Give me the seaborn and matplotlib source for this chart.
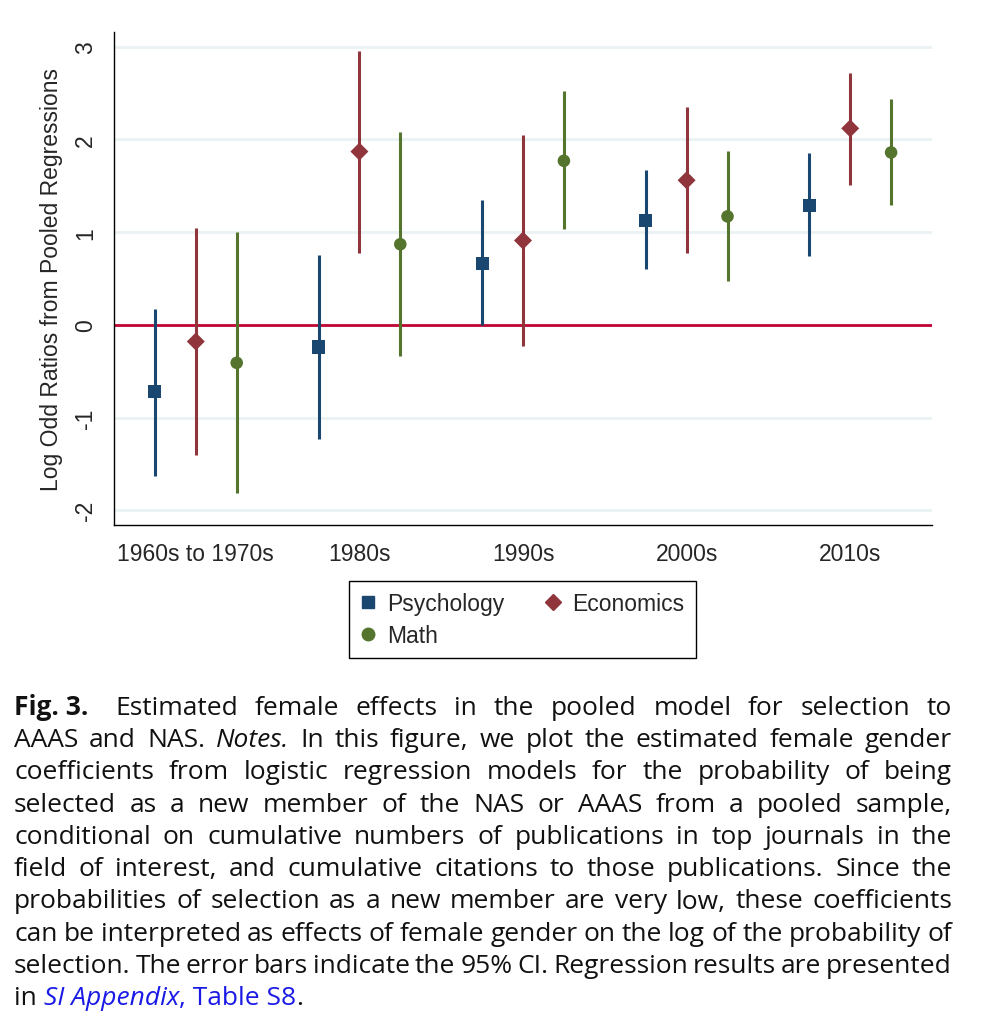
import pandas as pd
import seaborn as sns
import matplotlib.pyplot as plt
from matplotlib.lines import Line2D

decades = ["1960s to 1970s", "1980s", "1990s", "2000s", "2010s"]
fields = ["Psychology", "Economics", "Math"]

# point estimates and 95% CI bounds
psych_est = [-0.72, -0.24, 0.66, 1.13, 1.29]
psych_lo = [-1.63, -1.23, 0.00, 0.60, 0.74]
psych_hi = [0.17, 0.75, 1.35, 1.67, 1.85]

econ_est = [-0.18, 1.87, 0.91, 1.56, 2.12]
econ_lo = [-1.40, 0.78, -0.23, 0.77, 1.51]
econ_hi = [1.04, 2.96, 2.05, 2.35, 2.72]

math_est = [-0.41, 0.87, 1.77, 1.17, 1.86]
math_lo = [-1.82, -0.34, 1.03, 0.47, 1.29]
math_hi = [1.00, 2.08, 2.52, 1.88, 2.44]

colors = {"Psychology": "#1a476f", "Economics": "#90353b", "Math": "#55752f"}
markers = {"Psychology": "s", "Economics": "D", "Math": "o"}
sizes = {"Psychology": 90, "Economics": 84, "Math": 82}
offsets = {"Psychology": -0.25, "Economics": 0.0, "Math": 0.25}

rows = []
for field, est, lo, hi in [("Psychology", psych_est, psych_lo, psych_hi),
                           ("Economics", econ_est, econ_lo, econ_hi),
                           ("Math", math_est, math_lo, math_hi)]:
    for i, d in enumerate(decades):
        rows.append({"decade": d, "field": field, "est": est[i], "lo": lo[i], "hi": hi[i],
                     "xpos": i + offsets[field]})
df = pd.DataFrame(rows)

sns.set_style("white")
plt.rcParams["font.family"] = ["Liberation Sans", "DejaVu Sans"]

fig = plt.figure(figsize=(9.84, 10.2), dpi=100)
ax = fig.add_axes([114 / 984, 1 - 526 / 1020, (932 - 114) / 984, (526 - 33) / 1020])

# confidence intervals
ax.vlines(df["xpos"], df["lo"], df["hi"], colors=df["field"].map(colors), lw=2.2, zorder=2)

for field in fields:
    sub = df[df["field"] == field]
    sns.scatterplot(data=sub, x="xpos", y="est", color=colors[field], marker=markers[field],
                    s=sizes[field], edgecolor="none", linewidth=0, zorder=3, ax=ax, legend=False)

ax.axhline(0, color="#c10534", lw=2.0, zorder=1.5)

ax.set_xlim(-0.5, 4.5)
ax.set_ylim(-2.16, 3.16)
ax.set_xticks(range(len(decades)))
ax.set_xticklabels(decades)
ax.set_yticks([-2, -1, 0, 1, 2, 3])
ax.set_yticklabels(["-2", "-1", "0", "1", "2", "3"])
ax.yaxis.grid(True, color="#eaf2f3", lw=2.0, zorder=0)
ax.xaxis.grid(False)
ax.set_axisbelow(True)

for side in ["top", "right"]:
    ax.spines[side].set_visible(False)
for side in ["left", "bottom"]:
    ax.spines[side].set_color("black")
    ax.spines[side].set_linewidth(1.0)

ax.tick_params(axis="x", direction="out", length=10, width=1, color="black", pad=2, labelsize=16.5)
ax.tick_params(axis="y", direction="out", length=9, width=1, color="black", pad=3,
               labelsize=16.5, labelrotation=90)
for lab in ax.get_yticklabels():
    lab.set_va("center")
ax.set_xlabel("")
ax.set_ylabel("Log Odd Ratios from Pooled Regressions", fontsize=16.5, labelpad=8)

handles = [
    Line2D([], [], ls="none", marker="s", ms=9.0, color=colors["Psychology"], label="Psychology"),
    Line2D([], [], ls="none", marker="o", ms=9.0, color=colors["Math"], label="Math"),
    Line2D([], [], ls="none", marker="D", ms=8.6, color=colors["Economics"], label="Economics"),
]
leg = fig.legend(handles=handles, ncol=2, loc="center", bbox_to_anchor=(522.5 / 984, 1 - 620.5 / 1020),
                 frameon=True, fancybox=False, edgecolor="black", framealpha=1, fontsize=16.5,
                 handlelength=0.6, handletextpad=0.55, columnspacing=1.8, borderpad=0.5,
                 labelspacing=0.36, borderaxespad=0)
leg.get_frame().set_linewidth(1.0)

# caption, justified word by word
cap_font = "Open Sans"
cap_size = 19.0
black = "#111111"
blue = "#1a1ae6"
caption = [
    [("Fig. 3.", "bold", "normal", black)] + [(w, "normal", "normal", black) for w in
     "Estimated female effects in the pooled model for selection to".split()],
    [(w, "normal", "normal", black) for w in "AAAS and NAS.".split()] +
    [("Notes.", "normal", "italic", black)] +
    [(w, "normal", "normal", black) for w in "In this figure, we plot the estimated female gender".split()],
    [(w, "normal", "normal", black) for w in
     "coefficients from logistic regression models for the probability of being".split()],
    [(w, "normal", "normal", black) for w in
     "selected as a new member of the NAS or AAAS from a pooled sample,".split()],
    [(w, "normal", "normal", black) for w in
     "conditional on cumulative numbers of publications in top journals in the".split()],
    [(w, "normal", "normal", black) for w in
     "field of interest, and cumulative citations to those publications. Since the".split()],
    [(w, "normal", "normal", black) for w in
     "probabilities of selection as a new member are very low, these coefficients".split()],
    [(w, "normal", "normal", black) for w in
     "can be interpreted as effects of female gender on the log of the probability of".split()],
    [(w, "normal", "normal", black) for w in
     "selection. The error bars indicate the 95% CI. Regression results are presented".split()],
]

fig.canvas.draw()
renderer = fig.canvas.get_renderer()
fw = fig.bbox.width


def make_text(x, y, s, weight, style, color, size):
    return fig.text(x, y, s, fontsize=size, family=[cap_font, "DejaVu Sans"], fontweight=weight,
                    fontstyle=style, color=color, ha="left", va="baseline")


def text_width(t):
    return t.get_window_extent(renderer).width


probe = make_text(0, 0, "a a", "normal", "normal", black, cap_size)
probe2 = make_text(0, 0, "aa", "normal", "normal", black, cap_size)
space_w = text_width(probe) - text_width(probe2)
probe.remove()
probe2.remove()

left_px, right_px = 14, 952
base0, step = 715, 32.25

for li, tokens in enumerate(caption):
    y = 1 - (base0 + li * step) / 1020
    size = cap_size
    texts = [make_text(0, y, t[0], t[1], t[2], t[3], size) for t in tokens]
    widths = [text_width(t) for t in texts]
    weights = [1.6 if tokens[k][1] == "bold" else 1.0 for k in range(len(tokens) - 1)]
    avail = right_px - left_px - sum(widths)
    if avail < 0.6 * space_w * sum(weights):
        scale = (right_px - left_px - 0.6 * space_w * sum(weights)) / sum(widths)
        size = cap_size * scale
        for t in texts:
            t.set_fontsize(size)
        widths = [text_width(t) for t in texts]
        avail = right_px - left_px - sum(widths)
    gap = avail / sum(weights)
    x = left_px
    for k, t in enumerate(texts):
        t.set_x(x / fw)
        x += widths[k]
        if k < len(weights):
            x += gap * weights[k]

# last line, not justified
y = 1 - (base0 + 9 * step) / 1020
x = left_px
for s, weight, style, color in [("in", "normal", "normal", black), (" ", None, None, None),
                                ("SI Appendix", "normal", "italic", blue),
                                (", Table S8", "normal", "normal", blue),
                                (".", "normal", "normal", black)]:
    if weight is None:
        x += space_w
        continue
    t = make_text(x / fw, y, s, weight, style, color, cap_size)
    x += text_width(t)

fig.savefig("out.png", dpi=100)
